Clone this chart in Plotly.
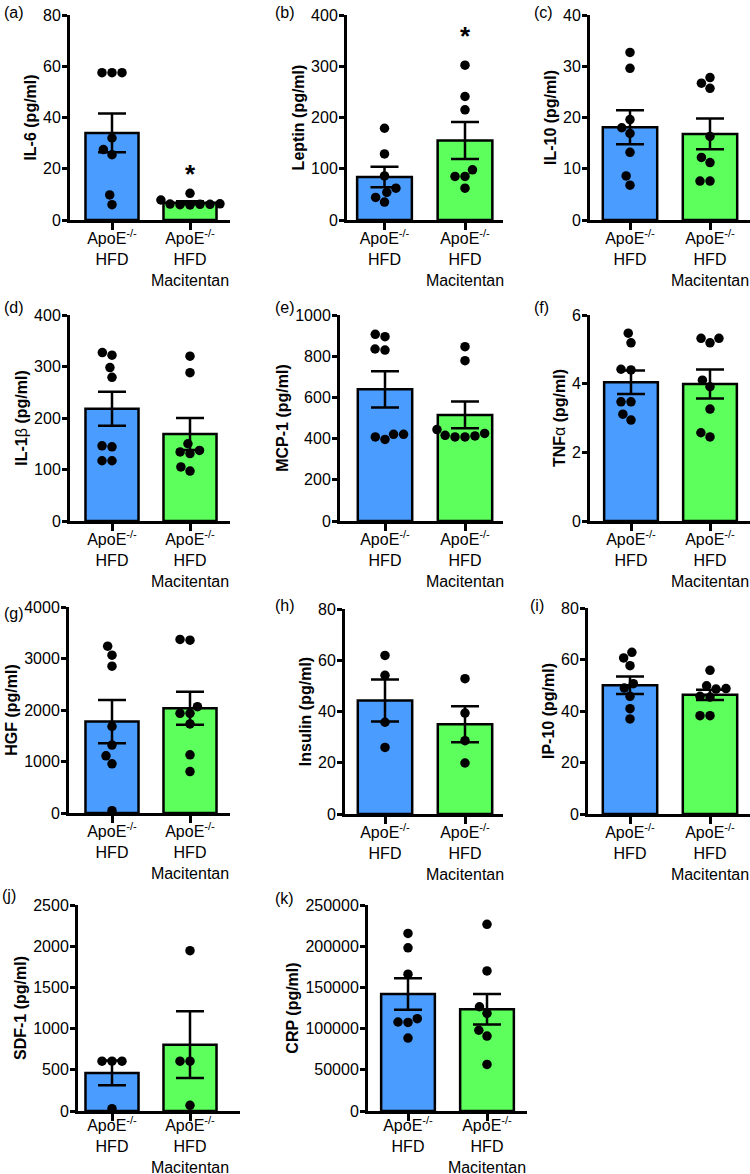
import math
import plotly.graph_objects as go

W, H = 750, 1174

categories = ["ApoE<sup>-/-</sup><br>HFD", "ApoE<sup>-/-</sup><br>HFD<br>Macitentan"]
bar_colors = ["#4a9dff", "#5cff5c"]

# (a) IL-6
il6_hfd = [57.5, 57.5, 57.5, 32.0, 27.5, 25.5, 9.8, 6.0]
il6_mac = [7.8, 10.4, 6.3, 6.1, 6.0, 6.2, 5.9, 6.1]
il6_mean = [34.0, 6.7]
il6_sem = [7.6, 0.6]
il6_star = 19.5

# (b) Leptin
leptin_hfd = [179, 129, 86, 62, 54, 44, 35]
leptin_mac = [302, 241, 215, 98, 85, 85, 62]
leptin_mean = [84, 155]
leptin_sem = [20, 36]
leptin_star = 367

# (c) IL-10
il10_hfd = [32.7, 29.6, 19.6, 16.9, 18.0, 13.2, 8.6, 6.8]
il10_mac = [26.7, 27.8, 25.7, 16.3, 12.2, 11.2, 7.6, 7.6]
il10_mean = [18.1, 16.8]
il10_sem = [3.3, 3.0]

# (d) IL-1beta
il1b_hfd = [322, 327, 298, 279, 146, 144, 117, 117]
il1b_mac = [320, 288, 150, 134, 137, 131, 97, 105]
il1b_mean = [218, 169]
il1b_sem = [33, 31]

# (e) MCP-1
mcp1_hfd = [895, 906, 835, 830, 421, 396, 408, 421]
mcp1_mac = [846, 778, 425, 413, 408, 408, 416, 444]
mcp1_mean = [639, 515]
mcp1_sem = [88, 65]

# (f) TNF-alpha
tnfa_hfd = [5.47, 5.19, 4.40, 4.42, 3.47, 3.47, 3.11, 2.94]
tnfa_mac = [5.32, 5.19, 5.32, 4.10, 3.91, 3.26, 2.57, 2.45]
tnfa_mean = [4.04, 3.99]
tnfa_sem = [0.34, 0.42]

# (g) HGF
hgf_hfd = [3240, 3065, 2850, 1680, 1320, 1110, 955, 45]
hgf_mac = [3355, 3370, 1935, 1935, 2065, 1730, 1130, 805]
hgf_mean = [1775, 2035]
hgf_sem = [420, 320]

# (h) Insulin
insulin_hfd = [61.9, 54.1, 35.8, 26.0]
insulin_mac = [52.8, 39.4, 28.6, 19.9]
insulin_mean = [44.3, 35.0]
insulin_sem = [8.2, 7.0]

# (i) IP-10
ip10_hfd = [62.8, 60.6, 57.6, 50.6, 48.9, 45.7, 40.9, 36.9]
ip10_mac = [55.8, 48.5, 49.8, 48.7, 45.7, 45.4, 38.2, 38.2]
ip10_mean = [50.0, 46.3]
ip10_sem = [3.4, 2.0]

# (j) SDF-1
sdf1_hfd = [604, 604, 604, 28]
sdf1_mac = [1945, 604, 604, 69]
sdf1_mean = [462, 805]
sdf1_sem = [150, 405]

# (k) CRP
crp_hfd = [215500, 198000, 166000, 108000, 107500, 112000, 88500]
crp_mac = [226500, 170000, 126500, 118500, 98000, 91000, 56500]
crp_mean = [142000, 123500]
crp_sem = [19000, 18500]

panels = [
    dict(tag="(a)", title="<b>IL-6 (pg/ml)</b>", ymax=80, dtick=20,
         groups=[il6_hfd, il6_mac], mean=il6_mean, sem=il6_sem, star=il6_star),
    dict(tag="(b)", title="<b>Leptin (pg/ml)</b>", ymax=400, dtick=100,
         groups=[leptin_hfd, leptin_mac], mean=leptin_mean, sem=leptin_sem, star=leptin_star),
    dict(tag="(c)", title="<b>IL-10 (pg/ml)</b>", ymax=40, dtick=10,
         groups=[il10_hfd, il10_mac], mean=il10_mean, sem=il10_sem),
    dict(tag="(d)", title="<b>IL-1</b>β<b> (pg/ml)</b>", ymax=400, dtick=100,
         groups=[il1b_hfd, il1b_mac], mean=il1b_mean, sem=il1b_sem),
    dict(tag="(e)", title="<b>MCP-1 (pg/ml)</b>", ymax=1000, dtick=200,
         groups=[mcp1_hfd, mcp1_mac], mean=mcp1_mean, sem=mcp1_sem),
    dict(tag="(f)", title="<b>TNF</b>α<b> (pg/ml)</b>", ymax=6, dtick=2,
         groups=[tnfa_hfd, tnfa_mac], mean=tnfa_mean, sem=tnfa_sem),
    dict(tag="(g)", title="<b>HGF (pg/ml)</b>", ymax=4000, dtick=1000,
         groups=[hgf_hfd, hgf_mac], mean=hgf_mean, sem=hgf_sem),
    dict(tag="(h)", title="<b>Insulin (pg/ml)</b>", ymax=80, dtick=20,
         groups=[insulin_hfd, insulin_mac], mean=insulin_mean, sem=insulin_sem),
    dict(tag="(i)", title="<b>IP-10 (pg/ml)</b>", ymax=80, dtick=20,
         groups=[ip10_hfd, ip10_mac], mean=ip10_mean, sem=ip10_sem),
    dict(tag="(j)", title="<b>SDF-1 (pg/ml)</b>", ymax=2500, dtick=500,
         groups=[sdf1_hfd, sdf1_mac], mean=sdf1_mean, sem=sdf1_sem),
    dict(tag="(k)", title="<b>CRP (pg/ml)</b>", ymax=250000, dtick=50000,
         groups=[crp_hfd, crp_mac], mean=crp_mean, sem=crp_sem),
]

# layout geometry in pixels: y-axis x, x-axis right end, top, zero line, centre of cat 1, cat 2
geom = [
    (70, 230, 15, 220, 112, 190),
    (347, 503, 15, 220, 384.5, 465),
    (590, 750, 15, 220, 630, 710),
    (70, 230, 315, 521, 112, 190),
    (340, 503, 315, 521, 385, 465),
    (590, 750, 315, 521, 631, 710),
    (69, 230, 607, 813, 112, 190),
    (345, 503, 609, 814, 385, 465),
    (588, 750, 608, 814, 630, 710),
    (78, 240, 905, 1111, 112, 190),
    (368, 527, 905, 1111, 408, 487),
]
tag_pos = [(2, 12), (273, 13), (532, 13), (2, 307), (273, 307), (532, 307),
           (2, 613), (273, 605), (528, 605), (0, 895), (273, 898)]

FONT = "Liberation Sans, Arial, sans-serif"
DOT = 10.0


def swarm(values, px_per_unit, d):
    order = sorted(range(len(values)), key=lambda i: values[i])
    placed = []
    xs = [0.0] * len(values)
    for i in order:
        y = values[i] * px_per_unit
        cands = [0.0]
        for (px, py) in placed:
            dy = abs(py - y)
            if dy < d:
                dx = math.sqrt(d * d - dy * dy)
                cands += [px - dx, px + dx]
        cands.sort(key=lambda c: (abs(c), c))
        for c in cands:
            if all((c - px) ** 2 + (y - py) ** 2 >= d * d - 1e-6 for px, py in placed):
                xs[i] = c
                break
        placed.append((xs[i], y))
    return xs


fig = go.Figure()
layout = dict(
    template="none",
    width=W, height=H, margin=dict(l=0, r=0, t=0, b=0, pad=0, autoexpand=False),
    paper_bgcolor="white", plot_bgcolor="white", showlegend=False,
    font=dict(family=FONT, size=16, color="black"),
    annotations=[],
)

for k, (p, g, tp) in enumerate(zip(panels, geom, tag_pos), start=1):
    xl, xr, yt, yz, c1, c2 = g
    unit = c2 - c1
    r0 = -(c1 - xl) / unit
    r1 = r0 + (xr - xl) / unit
    ypx = (yz - yt) / p["ymax"]
    xa, ya = f"x{k}", f"y{k}"

    fig.add_trace(go.Bar(
        x=[0, 1], y=p["mean"], width=0.68, xaxis=xa, yaxis=ya,
        marker=dict(color=bar_colors, line=dict(color="black", width=2.5)),
        error_y=dict(type="data", array=p["sem"], visible=True, color="black",
                     thickness=2.5, width=14),
    ))
    for gi, vals in enumerate(p["groups"]):
        offs = swarm(vals, ypx, DOT)
        fig.add_trace(go.Scatter(
            x=[gi + o / unit for o in offs], y=vals, mode="markers",
            xaxis=xa, yaxis=ya, cliponaxis=False,
            marker=dict(color="black", size=DOT - 0.5, line=dict(width=0)),
        ))

    sfx = "" if k == 1 else str(k)
    layout["xaxis" + sfx] = dict(
        domain=[xl / W, xr / W], range=[r0, r1], anchor=ya, automargin=False,
        tickvals=[0, 1], ticktext=categories, showline=True, linewidth=3,
        linecolor="black", ticks="outside", ticklen=7, tickwidth=3,
        tickcolor="black", showgrid=False, zeroline=False,
        ticklabelstandoff=-5 if k < 10 else -9,
        tickfont=dict(family=FONT, size=16, color="black"), fixedrange=True,
    )
    layout["yaxis" + sfx] = dict(
        domain=[(H - yz) / H, (H - yt) / H], range=[0, p["ymax"]], anchor=xa,
        automargin=False, tickformat="d",
        tick0=0, dtick=p["dtick"], showline=True, linewidth=3, linecolor="black",
        ticks="outside", ticklen=5, tickwidth=3, tickcolor="black",
        ticklabelstandoff=-2,
        showgrid=False, zeroline=False, fixedrange=True,
        tickfont=dict(family=FONT, size=16, color="black"),
        title=dict(text=p["title"], standoff=3,
                   font=dict(family=FONT, size=16, color="black")),
    )
    layout["annotations"].append(dict(
        text=p["tag"], xref="paper", yref="paper", x=tp[0] / W, y=(H - tp[1]) / H,
        xanchor="left", yanchor="middle", showarrow=False,
        font=dict(family=FONT, size=16, color="black"),
    ))
    if "star" in p:
        layout["annotations"].append(dict(
            text="<b>*</b>", xref=xa, yref=ya, x=1, y=p["star"],
            xanchor="center", yanchor="middle", yshift=-4, showarrow=False,
            font=dict(family=FONT, size=26, color="black"),
        ))

fig.update_layout(**layout)
fig.write_html("out.html", config={"displayModeBar": False},
               post_script="document.body.style.margin='0';")
